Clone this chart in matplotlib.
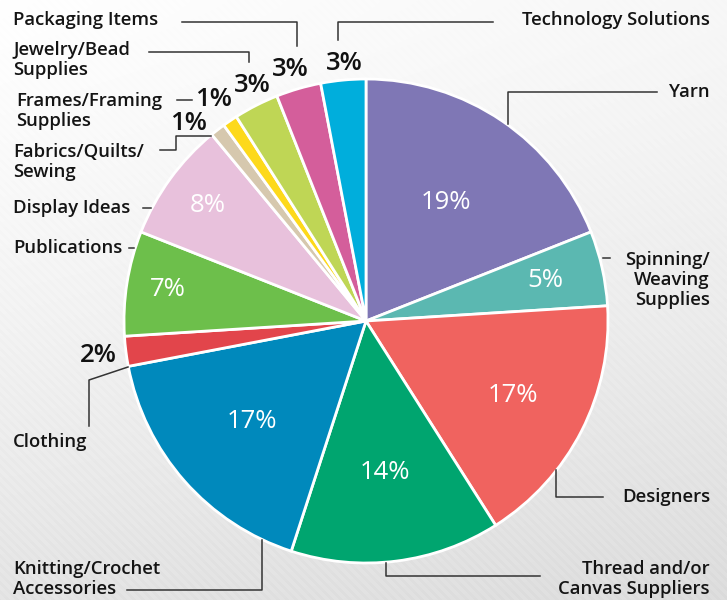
import numpy as np
import matplotlib
matplotlib.use("Agg")
import matplotlib.pyplot as plt

# data
categories = ["Yarn", "Spinning/\nWeaving\nSupplies", "Designers", "Thread and/or\nCanvas Suppliers",
              "Knitting/Crochet\nAccessories", "Clothing", "Publications", "Display Ideas",
              "Fabrics/Quilts/\nSewing", "Frames/Framing\nSupplies", "Jewelry/Bead\nSupplies",
              "Packaging Items", "Technology Solutions"]
shares = [19, 5, 17, 14, 17, 2, 7, 8, 1, 1, 3, 3, 3]
colors = ["#7f77b5", "#5bb8b1", "#f0635f", "#00a56f", "#0089bc", "#e2454b", "#6dbf4b",
          "#e8c1dc", "#d6c8ae", "#fdd91b", "#bfd655", "#d45e9b", "#00aedc"]

plt.rcParams['font.family'] = ['Open Sans', 'DejaVu Sans']

fig = plt.figure(figsize=(7.27, 6.0), dpi=100)

# background: light gradient with faint diagonal stripes
bg = fig.add_axes([0, 0, 1, 1])
yy, xx = np.mgrid[0:600, 0:727]
base = 1.0 - 0.10 * (yy / 600.0) ** 1.3 - 0.03 * (xx / 727.0)
stripes = 0.012 * (np.sin((xx - yy) * 2 * np.pi / 9.0) > 0.3)
img = np.clip(base - stripes * (yy / 600.0 + 0.2), 0, 1)
bg.imshow(np.dstack([img, img, img]), extent=[0, 727, 600, 0], aspect='auto')
bg.axis('off')

ax = fig.add_axes([0, 0, 1, 1])
ax.patch.set_alpha(0)
cx, cy, R = 366, 321, 242
wedges, _ = ax.pie(shares, colors=colors, startangle=-90, counterclock=True,
                   center=(cx, cy), radius=R,
                   wedgeprops=dict(edgecolor='white', linewidth=2))
ax.set_xlim(0, 727)
ax.set_ylim(600, 0)
ax.set_aspect('auto')
ax.axis('off')

# inner percentage labels (white)
inner_r = {0: 0.59, 1: 0.76, 2: 0.68, 3: 0.63, 4: 0.63, 6: 0.83, 7: 0.81}
for i, f in inner_r.items():
    w = wedges[i]
    a = np.deg2rad((w.theta1 + w.theta2) / 2)
    ax.text(cx + f * R * np.cos(a), cy + f * R * np.sin(a), f"{shares[i]}%",
            color='white', fontsize=18.5, ha='center', va='center', fontweight='normal')

# outer percentage labels (black)
outer_pct = {5: (98, 356), 8: (188, 123), 9: (213, 100), 10: (252, 85), 11: (290, 70), 12: (344, 63)}
for i, (x, y) in outer_pct.items():
    ax.text(x, y, f"{shares[i]}%", color='#111111', fontsize=18.5, ha='center', va='center',
            fontweight='semibold')

lab = dict(color='#141414', fontsize=13.3, fontweight='semibold', va='center', linespacing=1.15)
line = dict(color='#333333', lw=1.1)

# category labels and leader lines
ax.text(13, 20, categories[11], ha='left', **lab)
ax.plot([182, 297, 297], [22, 22, 46], **line)

ax.text(710, 20, categories[12], ha='right', **lab)
ax.plot([493, 338, 338], [22, 22, 40], **line)

ax.text(13, 60, categories[10], ha='left', **lab)
ax.plot([149, 249, 249], [52, 52, 62], **line)

ax.text(16, 111, categories[9], ha='left', **lab)
ax.plot([177, 192], [100, 100], **line)

ax.text(13, 162, categories[8], ha='left', **lab)
ax.plot([160, 176, 176, 211], [150, 150, 136, 136], **line)

ax.text(13, 208, categories[7], ha='left', **lab)
ax.plot([143, 151], [208, 208], **line)

ax.text(13, 248, categories[6], ha='left', **lab)
ax.plot([129, 134], [248, 248], **line)

ax.text(13, 442, categories[5], ha='left', **lab)
ax.plot([128, 89, 89], [367, 380, 426], **line)

ax.text(13, 579, categories[4], ha='left', **lab)
ax.plot([127, 262, 262], [590, 590, 540], **line)

ax.text(710, 579, categories[3], ha='right', multialignment='right', **lab)
ax.plot([386, 386, 540], [563, 576, 576], **line)

ax.text(710, 497, categories[2], ha='right', **lab)
ax.plot([556, 556, 603], [470, 497, 497], **line)

ax.text(710, 92, categories[0], ha='right', **lab)
ax.plot([508, 508, 657], [124, 92, 92], **line)

ax.text(710, 280, categories[1], ha='right', multialignment='right', **lab)
ax.plot([603, 610], [258, 258], **line)

fig.savefig("out.png", dpi=100)
